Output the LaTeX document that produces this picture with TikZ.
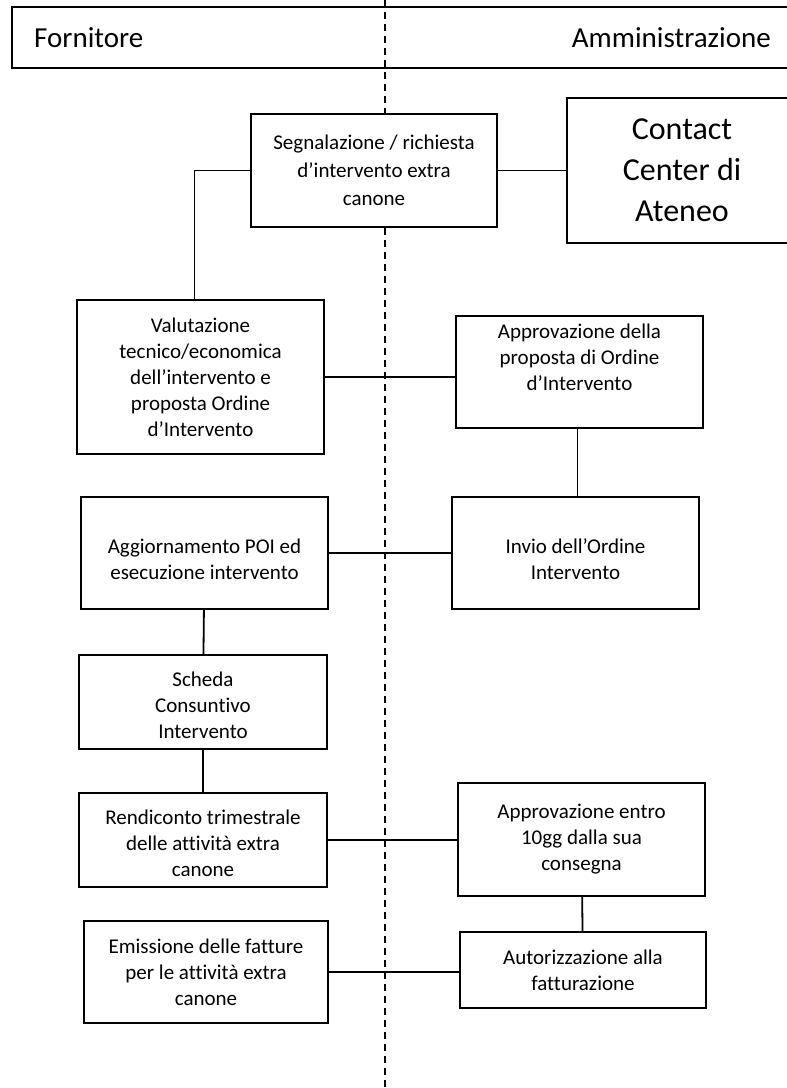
\documentclass[tikz,border=0pt]{standalone}
\usepackage{fontspec}
\setmainfont{Carlito}[Ligatures=NoCommon]
\usetikzlibrary{calc,positioning}

\begin{document}
\begin{tikzpicture}[x=1pt,y=-1pt,
	box/.style={draw,fill=white,line width=1.8pt,align=center,inner sep=0pt,font=\fontsize{21}{26}\selectfont},
	lane/.style={line width=1.8pt,dash pattern=on 7pt off 5pt},
	link/.style={line width=1.8pt}]
	\useasboundingbox (0,0) rectangle (787,1088);
	\draw[link] (800,7) -- (12,7) -- (12,68) -- (800,68);
	\node[anchor=west,inner sep=0pt,font=\fontsize{29}{35}\selectfont] (forn) at (34,38) {Fornitore};
	\node[anchor=east,inner sep=0pt,font=\fontsize{29}{35}\selectfont] (amm) at (771,38) {Amministrazione};
	\draw[lane] (385,0) -- (385,1088);
	\node[box,minimum width=246pt,minimum height=113pt,font=\fontsize{21}{28}\selectfont] (segn) at (374,170.5) {Segnalazione / richiesta\\d’intervento extra\\canone};
	\node[box,minimum width=230pt,minimum height=145pt,font=\fontsize{32}{41}\selectfont] (cc) at (682,170.5) {Contact\\Center di\\Ateneo};
	\node[box,minimum width=247pt,minimum height=154pt] (valut) at (200.5,377) {Valutazione\\tecnico/economica\\dell’intervento e\\proposta Ordine\\d’Intervento};
	\node[box,minimum width=247pt,minimum height=112pt] (approv) at (579.5,372) {Approvazione della\\proposta di Ordine\\d’Intervento\\[4pt]\mbox{}};
	\node[box,minimum width=247pt,minimum height=112pt] (aggior) at (204.5,553) {\rule{0pt}{28pt}Aggiornamento POI ed\\esecuzione intervento};
	\node[box,minimum width=247pt,minimum height=112pt] (invio) at (575.5,553) {\rule{0pt}{28pt}Invio dell’Ordine\\Intervento};
	\node[box,minimum width=248pt,minimum height=94pt] (scheda) at (203,702) {\rule{0pt}{22pt}Scheda\\Consuntivo\\Intervento};
	\node[box,minimum width=248pt,minimum height=94pt] (rendic) at (203,840) {\rule{0pt}{22pt}Rendiconto trimestrale\\delle attività extra\\canone};
	\node[box,minimum width=247pt,minimum height=113pt] (approventro) at (581.5,839.5) {Approvazione entro\\10gg dalla sua\\consegna};
	\node[box,minimum width=246pt,minimum height=76pt] (autoriz) at (583,970) {Autorizzazione alla\\fatturazione};
	\node[box,minimum width=244pt,minimum height=102pt] (emiss) at (206,972) {Emissione delle fatture\\per le attività extra\\canone};
	\draw[link] (segn) -- (cc);
	\draw[link] (segn.west) -| ($(valut.north)+(-6,0)$);
	\draw[link] (valut.east) -- (valut.east -| approv.west);
	\draw[link] ($(approv.south)+(-2,0)$) -- ($(approv.south |- invio.north)+(-2,0)$);
	\draw[link] (aggior) -- (invio);
	\draw[link] (aggior) -- (scheda);
	\draw[link] (scheda) -- (rendic);
	\draw[link] (rendic.east) -- (rendic.east -| approventro.west);
	\draw[link] (approventro) -- (autoriz);
	\draw[link] (emiss.east) -- (emiss.east -| autoriz.west);
\end{tikzpicture}
\end{document}
